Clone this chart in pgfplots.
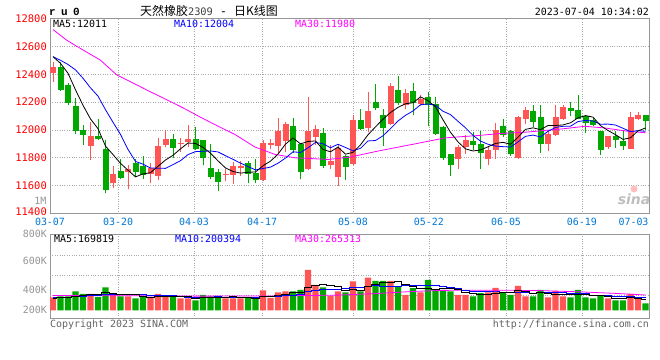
\documentclass[border=0pt]{standalone}
\usepackage{pgfplots}
\pgfplotsset{compat=1.18}
\usepackage{pgfplotstable}
\usepackage{fontspec}
\newfontfamily\monof{DejaVu Sans Mono}
\newfontfamily\courb{Liberation Mono}
\newfontfamily\cjk{Noto Sans CJK SC}
\newfontfamily\sinaf{DejaVu Sans}
\definecolor{kred}{RGB}{255,85,85}
\definecolor{kgreen}{RGB}{0,168,0}
\definecolor{mablue}{RGB}{0,0,255}
\definecolor{mamag}{RGB}{255,0,255}
\definecolor{gridgray}{RGB}{170,170,170}
\definecolor{framegray}{RGB}{150,150,150}
\definecolor{dateblue}{RGB}{0,120,215}
\definecolor{labelgray}{RGB}{150,150,150}
\definecolor{copygray}{RGB}{100,100,100}

% rising days: index, open, high, low, close, volume (K)
\pgfplotstableread{
i o h l c v
0 12407 12488 12347 12450 202
5 11888 12055 11783 11959 259
8 11617 11740 11583 11681 243
10 11697 11745 11574 11716 217
13 11681 11762 11617 11724 206
14 11669 11945 11640 11883 259
15 11895 12002 11876 11938 217
17 11897 11943 11843 11904 186
18 11916 12038 11876 11938 186
23 11676 11717 11631 11686 186
24 11676 11769 11612 11740 186
25 11724 11776 11669 11740 186
28 11640 11931 11633 11907 310
29 11895 11938 11860 11909 197
30 11883 12086 11836 11990 279
31 11919 12057 11840 12045 295
34 11717 12240 11710 11995 631
35 11952 12038 11895 12007 398
37 11745 11895 11717 11774 222
38 11662 11902 11598 11871 295
40 11752 12109 11745 12074 450
42 12014 12271 11983 12133 512
45 12045 12340 12038 12312 460
47 12181 12295 12150 12264 243
49 12188 12252 12174 12224 279
54 11788 11895 11717 11879 243
55 11879 11967 11824 11926 243
58 11788 11879 11745 11859 279
59 11855 12050 11793 12000 352
62 11795 12097 11790 12090 383
63 12081 12164 12043 12140 217
66 11900 12002 11852 11971 202
67 11966 12176 11955 12090 305
68 12081 12176 12073 12162 217
74 11876 11955 11866 11955 186
77 11866 12128 11866 12090 259
78 12081 12128 12069 12104 186
}\kup

% falling days
\pgfplotstableread{
i o h l c v
1 12454 12490 12276 12288 217
2 12324 12340 12181 12193 217
3 12174 12228 11971 11990 295
4 11997 12038 11895 11966 259
6 11959 12081 11926 11938 206
7 11866 11931 11545 11569 357
9 11702 11788 11645 11652 217
11 11760 11793 11664 11697 186
12 11740 11816 11650 11676 206
16 11933 11969 11800 11869 206
19 11938 12021 11859 11866 155
20 11926 11930 11745 11798 243
21 11726 11902 11645 11660 217
22 11695 11717 11562 11626 228
26 11764 11776 11617 11686 206
27 11688 11788 11617 11640 206
32 12031 12086 11836 11859 295
33 11902 11907 11645 11698 321
36 11978 12014 11729 11740 357
39 11812 11817 11640 11736 279
41 12074 12150 11997 12009 295
43 12204 12331 12145 12157 460
44 12109 12152 11883 12014 460
46 12288 12388 12181 12193 372
48 12281 12340 12105 12193 346
50 12240 12269 12026 12176 476
51 12188 12233 11966 11974 321
52 12019 12026 11783 11798 321
53 11824 11829 11669 11745 295
56 11919 11983 11859 11895 217
57 11902 11990 11721 11836 268
60 12031 12078 11950 11966 279
61 11995 12002 11812 11824 243
64 12138 12176 12019 12057 217
65 12090 12176 11836 11900 321
69 12157 12197 12097 12133 202
70 12145 12252 12075 12081 321
71 12102 12109 11978 12050 202
72 12073 12085 12026 12033 186
73 11990 11990 11819 11859 228
75 11955 11990 11871 11931 155
76 11919 12002 11859 11883 155
79 12104 12104 12002 12062 109
}\kdn

% moving averages: price MA5, MA10; volume MA5, MA10 (K)
\pgfplotstableread{
i m5 m10 vm5 vm10
0 12526 12526 190 200
1 12478 12500 195 203
2 12407 12470 200 206
3 12288 12431 215 212
4 12177 12371 238 220
5 12079 12302 249 228
6 12009 12243 247 235
7 11884 12145 275 243
8 11823 12055 265 250
9 11760 11968 256 247
10 11711 11860 248 249
11 11663 11774 244 246
12 11684 11754 214 245
13 11693 11727 206 236
14 11739 11725 215 236
15 11784 11724 215 232
16 11818 11751 219 232
17 11864 11779 215 215
18 11906 11823 211 209
19 11903 11844 190 203
20 11875 11847 195 205
21 11833 11849 197 208
22 11778 11842 206 211
23 11727 11815 206 209
24 11702 11789 212 201
25 11690 11762 201 198
26 11696 11737 198 198
27 11698 11713 194 200
28 11743 11723 219 213
29 11776 11733 221 217
30 11826 11761 240 221
31 11898 11798 257 228
32 11942 11843 275 235
33 11900 11838 277 248
34 11917 11872 364 293
35 11921 11910 388 314
36 11860 11901 400 329
37 11843 11872 386 331
38 11877 11897 381 329
39 11826 11874 310 337
40 11839 11850 321 355
41 11893 11868 308 354
42 11965 11921 366 376
43 12022 11924 399 390
44 12077 11958 435 373
45 12125 12009 437 379
46 12162 12064 453 381
47 12188 12105 399 383
48 12195 12136 376 388
49 12237 12181 340 388
50 12210 12186 343 390
51 12166 12177 333 393
52 12073 12134 349 374
53 11983 12110 338 357
54 11914 12062 331 336
55 11864 12015 285 314
56 11849 11961 264 299
57 11856 11920 253 301
58 11879 11897 250 294
59 11903 11884 272 302
60 11911 11880 279 282
61 11897 11877 284 274
62 11948 11914 307 280
63 12004 11954 295 273
64 12015 11963 268 270
65 12002 11950 276 278
66 12032 11990 268 276
67 12032 12018 252 280
68 12036 12026 252 274
69 12051 12027 249 259
70 12087 12060 249 263
71 12103 12068 249 259
72 12092 12064 226 239
73 12031 12041 228 240
74 11996 12042 225 237
75 11966 12035 191 220
76 11932 12012 182 216
77 11944 11988 197 212
78 11993 11995 188 208
79 12014 11990 173 199
}\kma

\pgfplotstableread{
i v
0 12721
1.8 12645
4.0 12574
6.3 12502
8.5 12395
10.7 12336
12.9 12276
15.2 12216
17.4 12157
19.6 12093
21.6 12038
24.3 11966
26.9 11878
29.6 11824
32.3 11800
34.9 11793
36.7 11788
39.6 11805
43.3 11848
47.8 11895
52.3 11943
56.7 11960
59.6 11974
63.3 11985
67.8 12007
70.9 12026
73.6 12014
76.7 11990
79 11980
}\mathirty

\pgfplotstableread{
i v
0 232
10 228
20 222
30 226
38 238
43 262
48 295
52 312
60 315
65 308
70 290
75 265
79 240
}\vmathirty

\pgfplotsset{
  sinaax/.style={
    scale only axis, width=599bp, anchor=north west,
    xmin=-0.4, xmax=79.4667,
    scaled ticks=false,
    axis line style={draw=framegray, line width=1bp},
    major grid style={draw=gridgray, dotted, line width=0.8bp},
    major tick length=0pt, minor tick length=0pt,
    tick style={draw=none},
    xtick={8.67,18.8,27.87,40,50.13,60.4,70.53},
    xmajorgrids,
  },
  candlewick/.style={forget plot, only marks, mark=*, mark size=0pt,
    mark options={draw=none, fill=none},
    error bars/y dir=plus, error bars/y explicit, error bars/error mark=none,
    error bars/error bar style={line width=1bp, color=#1}},
  candlebody/.style={forget plot, only marks, mark=*, mark size=0pt,
    mark options={draw=none, fill=none},
    error bars/y dir=plus, error bars/y explicit, error bars/error mark=none,
    error bars/error bar style={line width=6bp, color=#1, line cap=butt}},
}

\begin{document}
\begin{tikzpicture}
\useasboundingbox (0,0) rectangle (660bp,-360bp);
\fill[white] (0,0) rectangle (660bp,-360bp);

% ---------- price panel ----------
\begin{axis}[sinaax, at={(50bp,-18.5bp)}, height=195bp,
  ymin=11400, ymax=12800,
  ytick={11600,11800,12000,12200,12400,12600,12800},
  yticklabels={11600,11800,12000,12200,12400,12600,12800},
  ymajorgrids,
  extra y ticks={11413}, extra y tick labels={11400},
  extra y tick style={grid=none},
  yticklabel style={font=\monof\fontsize{10.5}{12}\selectfont, text=red, inner sep=0pt, anchor=east, xshift=-3bp},
  xticklabels={03-20,04-03,04-17,05-08,05-22,06-05,06-19},
  extra x ticks={-0.4,77.4}, extra x tick labels={03-07,07-03},
  extra x tick style={grid=none},
  xticklabel style={font=\monof\fontsize{10}{12}\selectfont, text=dateblue, inner sep=0pt, yshift=-4bp},
]
\addplot[candlewick=kred]
  table[x=i, y=l, y error plus expr={\thisrow{h}-\thisrow{l}}] {\kup};
\addplot[candlebody=kred]
  table[x=i, y=o, y error plus expr={max(\thisrow{c}-\thisrow{o},7)}] {\kup};
\addplot[candlewick=kgreen]
  table[x=i, y=l, y error plus expr={\thisrow{h}-\thisrow{l}}] {\kdn};
\addplot[candlebody=kgreen]
  table[x=i, y=c, y error plus expr={max(\thisrow{o}-\thisrow{c},7)}] {\kdn};
\addplot[mamag, line width=0.8bp, mark=none] table[x=i, y=v] {\mathirty};
\addplot[mablue, line width=0.8bp, mark=none] table[x=i, y=m10] {\kma};
\addplot[black, line width=0.8bp, mark=none] table[x=i, y=m5] {\kma};
\end{axis}

% ---------- volume panel ----------
\begin{axis}[sinaax, at={(50bp,-234bp)}, height=84bp,
  ymin=-118, ymax=1189,
  ytick={11,321,770,1189}, yticklabels={200K,400K,600K,800K},
  yticklabel style={font=\monof\fontsize{10}{12}\selectfont, text=labelgray, inner sep=0pt, anchor=east, xshift=-3bp},
  extra y ticks={226,543,859}, extra y tick labels={},
  extra y tick style={grid=major},
  xticklabels={},
]
\addplot[ybar, bar width=6.3bp, bar shift=0pt, fill=kred, draw=none, forget plot]
  table[x=i, y=v] {\kup};
\addplot[ybar, bar width=6.3bp, bar shift=0pt, fill=kgreen, draw=none, forget plot]
  table[x=i, y=v] {\kdn};
\addplot[mamag, line width=0.8bp, mark=none] table[x=i, y=v] {\vmathirty};
\addplot[mablue, line width=0.8bp, mark=none, const plot mark mid] table[x=i, y=vm10] {\kma};
\addplot[black, line width=0.8bp, mark=none, const plot mark mid] table[x=i, y=vm5] {\kma};
\end{axis}

% ---------- texts ----------
\begin{scope}[x=1bp, y=-1bp]
\node[anchor=west, inner sep=0pt] at (49,11.5) {\courb\bfseries\fontsize{11}{11}\selectfont r\hspace{-1.2bp} u\hspace{-1.2bp} 0};
\node[anchor=west, inner sep=0pt] at (140,11) {\cjk\fontsize{12}{12}\selectfont 天然橡胶\textcolor{darkgray}{\monof\fontsize{10.4}{12}\selectfont 2309}\hspace{7bp}{\monof -}\hspace{7bp}日K线图};
\node[anchor=east, inner sep=0pt] at (649,12) {\monof\fontsize{10}{12}\selectfont 2023-07-04 10:34:02};
\node[anchor=west, inner sep=0pt] at (53,23.5) {\monof\fontsize{10}{12}\selectfont MA5:12011};
\node[anchor=west, inner sep=0pt, text=mablue] at (174,23.5) {\monof\fontsize{10}{12}\selectfont MA10:12004};
\node[anchor=west, inner sep=0pt, text=mamag] at (295,23.5) {\monof\fontsize{10}{12}\selectfont MA30:11980};
\node[anchor=west, inner sep=0pt] at (54,238.5) {\monof\fontsize{10}{12}\selectfont MA5:169819};
\node[anchor=west, inner sep=0pt, text=mablue] at (175,238.5) {\monof\fontsize{10}{12}\selectfont MA10:200394};
\node[anchor=west, inner sep=0pt, text=mamag] at (295,238.5) {\monof\fontsize{10}{12}\selectfont MA30:265313};
\node[anchor=east, inner sep=0pt, text=labelgray] at (46.5,200.5) {\monof\fontsize{10}{12}\selectfont 1M};
\node[anchor=west, inner sep=0pt, text=copygray] at (50,324.5) {\monof\fontsize{10}{12}\selectfont Copyright 2023 SINA.COM};
\node[anchor=east, inner sep=0pt, text=copygray] at (649,324.5) {\monof\fontsize{10}{12}\selectfont http://finance.sina.com.cn};
\node[anchor=center, inner sep=0pt, text=black!25] at (634,199) {\sinaf\bfseries\itshape\fontsize{14}{14}\selectfont sina};
\fill[red!25] (634,189) circle (3.5);
\end{scope}
\end{tikzpicture}
\end{document}
